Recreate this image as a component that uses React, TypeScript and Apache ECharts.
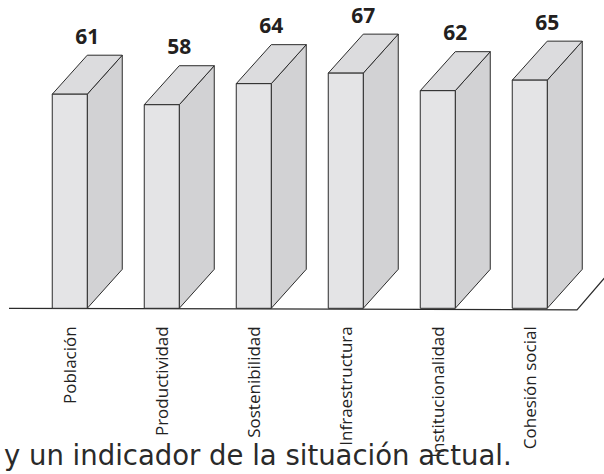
import React, { useEffect, useRef } from "react";
import * as echarts from "echarts";

const categories = [
  "Población",
  "Productividad",
  "Sostenibilidad",
  "Infraestructura",
  "Institucionalidad",
  "Cohesión social",
];
const values = [61, 58, 64, 67, 62, 65];
const caption = "y un indicador de la situación actual.";

const FRONT_W = 35;
const DEPTH_X = 35;
const DEPTH_Y = 39;
const EDGE = "#2b2b2b";

export default function App() {
  const ref = useRef<HTMLDivElement>(null);
  useEffect(() => {
    if (!ref.current) return;
    const chart = echarts.init(ref.current, null, { renderer: "svg" });
    chart.setOption({
      animation: false,
      backgroundColor: "#ffffff",
      grid: { left: 23.75, width: 552, top: 27.5, bottom: 165.7 },
      xAxis: {
        type: "category",
        data: categories,
        axisLine: { show: false },
        axisTick: { show: false },
        axisLabel: {
          rotate: 90,
          margin: 18,
          fontSize: 17,
          fontFamily: "Open Sans",
          color: "#222",
        },
      },
      yAxis: {
        type: "value",
        min: 0,
        max: 80,
        show: false,
        splitLine: { show: false },
      },
      graphic: [
        {
          type: "polyline",
          shape: { points: [[9, 308.3], [577, 309.8], [620, 260]] },
          style: { stroke: EDGE, lineWidth: 1.2, fill: "none" },
          z: 0,
        },
        {
          type: "text",
          left: 4,
          top: 441,
          style: {
            text: caption,
            fontSize: 27.5,
            fontFamily: "DejaVu Sans",
            fill: "#2a2a2a",
          },
          z: 10,
        },
      ],
      series: [
        {
          type: "custom",
          data: values.map((v, i) => [i, v]),
          z: 5,
          renderItem: (params: any, api: any) => {
            const top = api.coord([api.value(0), api.value(1)]);
            const base = api.coord([api.value(0), 0]);
            const cx = top[0];
            const ty = top[1];
            const by = base[1];
            const l = cx - FRONT_W / 2;
            const r = cx + FRONT_W / 2;
            return {
              type: "group",
              children: [
                {
                  type: "polygon",
                  shape: {
                    points: [
                      [r, ty],
                      [r + DEPTH_X, ty - DEPTH_Y],
                      [r + DEPTH_X, by - DEPTH_Y],
                      [r, by],
                    ],
                  },
                  style: { fill: "#d2d2d4", stroke: EDGE, lineWidth: 1 },
                },
                {
                  type: "polygon",
                  shape: {
                    points: [
                      [l, ty],
                      [l + DEPTH_X, ty - DEPTH_Y],
                      [r + DEPTH_X, ty - DEPTH_Y],
                      [r, ty],
                    ],
                  },
                  style: { fill: "#dcdcde", stroke: EDGE, lineWidth: 1 },
                },
                {
                  type: "rect",
                  shape: { x: l, y: ty, width: FRONT_W, height: by - ty },
                  style: { fill: "#e4e4e6", stroke: EDGE, lineWidth: 1 },
                },
                {
                  type: "text",
                  x: cx + DEPTH_X / 2,
                  y: ty - DEPTH_Y - 9,
                  style: {
                    text: String(api.value(1)),
                    align: "center",
                    verticalAlign: "bottom",
                    fontSize: 21,
                    fontWeight: "bold",
                    fontFamily: "Open Sans",
                    fill: "#231f20",
                  },
                },
              ],
            };
          },
        },
      ],
    });
    return () => chart.dispose();
  }, []);
  return (
    <div
      ref={ref}
      style={{ position: "fixed", left: 0, top: 0, width: 604, height: 474 }}
    />
  );
}
